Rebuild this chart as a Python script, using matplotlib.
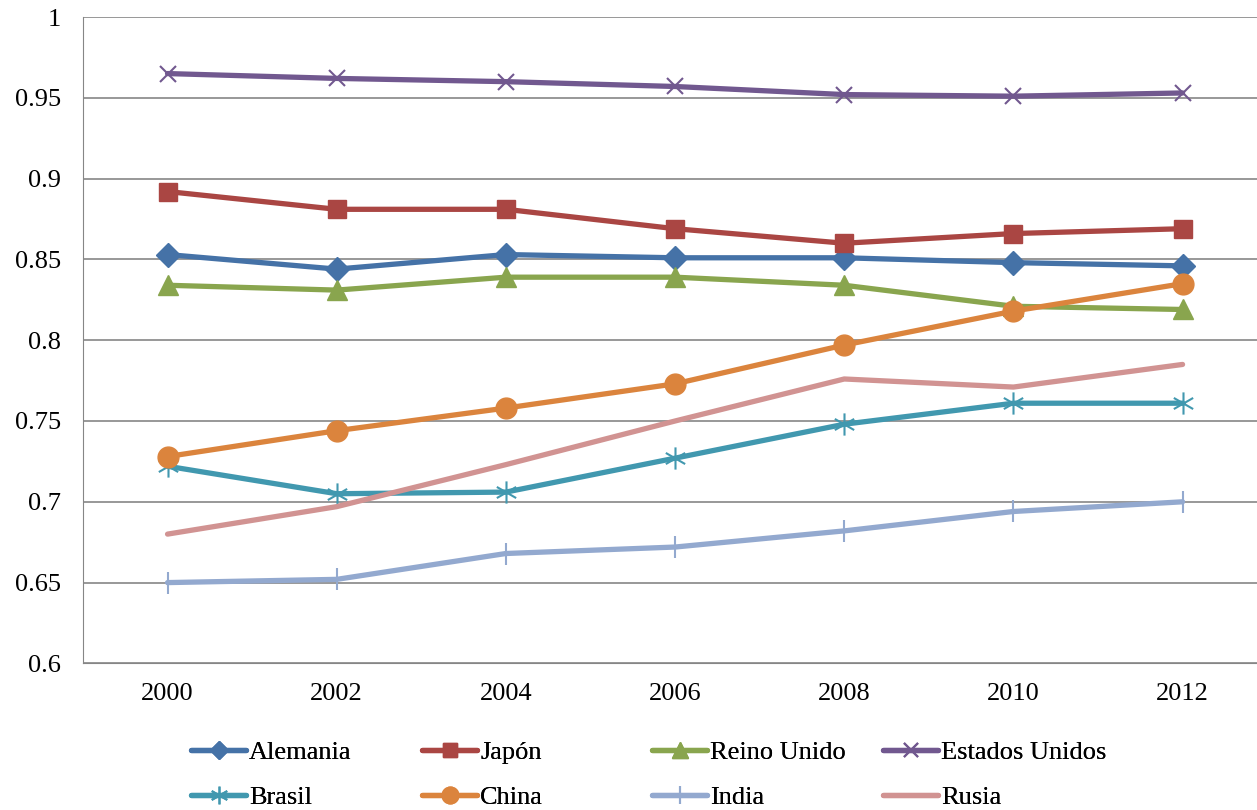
import numpy as np
import matplotlib.pyplot as plt
from matplotlib.path import Path

years = ['2000', '2002', '2004', '2006', '2008', '2010', '2012']

alemania = [0.853, 0.844, 0.853, 0.851, 0.851, 0.848, 0.846]
japon = [0.892, 0.881, 0.881, 0.869, 0.860, 0.866, 0.869]
reino_unido = [0.834, 0.831, 0.839, 0.839, 0.834, 0.821, 0.819]
estados_unidos = [0.965, 0.962, 0.960, 0.957, 0.952, 0.951, 0.953]
brasil = [0.722, 0.705, 0.706, 0.727, 0.748, 0.761, 0.761]
china = [0.728, 0.744, 0.758, 0.773, 0.797, 0.818, 0.835]
india = [0.650, 0.652, 0.668, 0.672, 0.682, 0.694, 0.700]
rusia = [0.680, 0.697, 0.723, 0.750, 0.776, 0.771, 0.785]

# asterisk marker: vertical line plus two diagonals
star = Path([(0, -1), (0, 1), (-0.87, -0.5), (0.87, 0.5), (-0.87, 0.5), (0.87, -0.5)],
            [Path.MOVETO, Path.LINETO, Path.MOVETO, Path.LINETO, Path.MOVETO, Path.LINETO])


def main():
    plt.rcParams['font.family'] = ['Liberation Serif', 'DejaVu Serif']
    fig = plt.figure(figsize=(12.57, 8.10), dpi=100)
    ax = fig.add_axes([0.066, 0.181, 0.934, 0.798])
    x = np.arange(len(years))

    series = [
        ('Alemania', alemania, '#4572A7', 'D', 12),
        ('Japón', japon, '#AA4643', 's', 13),
        ('Reino Unido', reino_unido, '#89A54E', '^', 14),
        ('Estados Unidos', estados_unidos, '#71588F', 'x', 12),
        ('Brasil', brasil, '#4198AF', star, 16),
        ('China', china, '#DB843D', 'o', 15),
        ('India', india, '#93A9CF', '|', 16),
        ('Rusia', rusia, '#D19392', None, 0),
    ]
    handles = []
    for name, vals, col, mk, ms in series:
        thin = mk is star or mk in ('x', '|')
        h, = ax.plot(x, vals, color=col, lw=3.8, marker=mk, markersize=ms,
                     markeredgecolor=col, markerfacecolor=col,
                     markeredgewidth=1.5 if thin else 1,
                     label=name, solid_capstyle='round')
        handles.append(h)

    ax.set_xlim(-0.5, 6.44)
    ax.set_ylim(0.6, 1.0)
    ax.set_yticks(np.arange(0.6, 1.001, 0.05))
    ax.set_yticklabels(['0.6', '0.65', '0.7', '0.75', '0.8', '0.85', '0.9', '0.95', '1'])
    ax.set_xticks(x)
    ax.set_xticklabels(years)
    ax.tick_params(labelsize=19, length=0)
    ax.tick_params(axis='y', pad=16)
    ax.tick_params(axis='x', pad=14)
    ax.grid(axis='y', color='#868686', lw=1.2)
    ax.set_axisbelow(True)
    for s in ['top', 'right']:
        ax.spines[s].set_visible(False)
    ax.spines['left'].set_color('#868686')
    ax.spines['bottom'].set_color('#868686')

    # one legend per column, placed like the original
    col_x = [191, 422, 652, 883]
    for i, cx in enumerate(col_x):
        hs = [handles[i], handles[i + 4]]
        leg = fig.legend(hs, [h.get_label() for h in hs], loc='center left',
                         bbox_to_anchor=(cx / 1257, 1 - 775 / 810),
                         frameon=False, fontsize=19, handlelength=2.1,
                         handletextpad=0.1, labelspacing=0.8, borderaxespad=0,
                         borderpad=0, markerscale=0.8)
        fig.add_artist(leg)
    fig.savefig('out.png')


if __name__ == "__main__":
    main()
